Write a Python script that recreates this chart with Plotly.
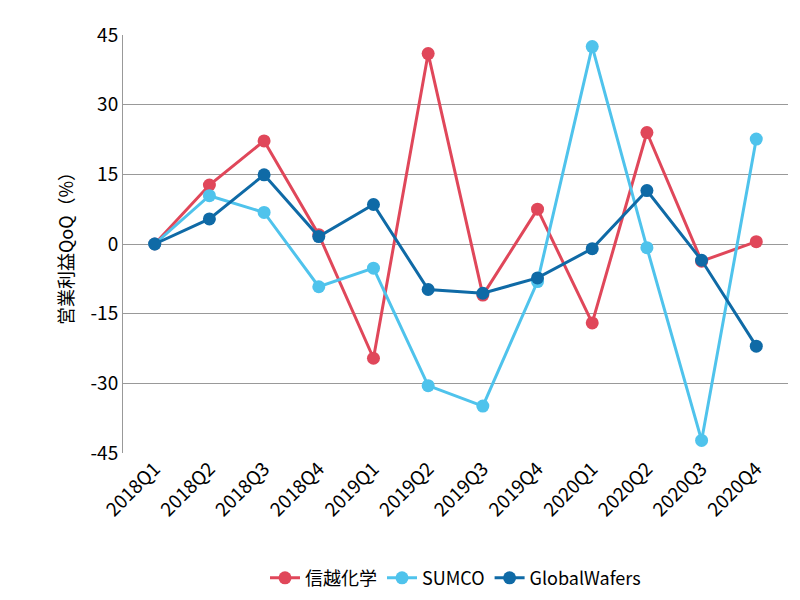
import plotly.graph_objects as go

quarters = ["2018Q1","2018Q2","2018Q3","2018Q4","2019Q1","2019Q2","2019Q3","2019Q4","2020Q1","2020Q2","2020Q3","2020Q4"]
shinetsu = [0, 12.7, 22.2, 2.0, -24.6, 41.0, -11.0, 7.5, -17.0, 24.0, -3.7, 0.5]
sumco = [0, 10.4, 6.8, -9.2, -5.2, -30.5, -34.9, -8.1, 42.5, -0.8, -42.3, 22.6]
globalwafers = [0, 5.4, 14.9, 1.6, 8.5, -9.8, -10.6, -7.3, -1.0, 11.5, -3.5, -22.0]
yticks = [-45, -30, -15, 0, 15, 30, 45]

fig = go.Figure()
for name, vals, col in [("信越化学", shinetsu, "#e0475a"), ("SUMCO", sumco, "#4fc3ec"), ("GlobalWafers", globalwafers, "#0f6aa6")]:
    fig.add_trace(go.Scatter(x=quarters, y=vals, name=name, mode="lines+markers",
                             line=dict(color=col, width=3), marker=dict(color=col, size=13)))

fig.update_layout(
    width=800, height=600, plot_bgcolor="white", paper_bgcolor="white",
    font=dict(family="Noto Sans CJK JP", size=19, color="black"),
    margin=dict(l=115, r=20, t=24, b=149),
    legend=dict(orientation="h", x=0.5, xanchor="center", y=-0.255, yanchor="top", font=dict(size=18)),
    xaxis=dict(tickangle=-45, showgrid=False, showline=False, ticks="", range=[-0.58, 11.58]),
    yaxis=dict(range=[-45, 45], tickvals=yticks, ticktext=[str(v) for v in yticks],
               gridcolor="#999", gridwidth=1, zeroline=True, zerolinecolor="#999", zerolinewidth=1,
               showline=True, linecolor="#999", title=dict(text="営業利益QoQ（%）", standoff=12, font=dict(size=18))),
)
fig.write_html("out.html")
